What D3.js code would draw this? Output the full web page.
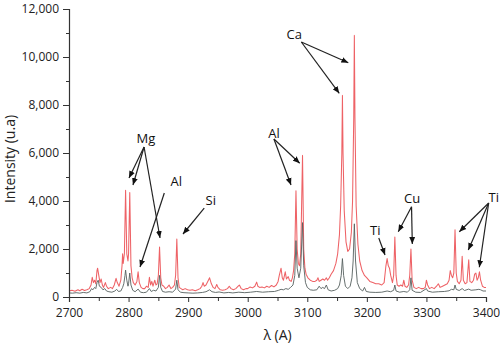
<!DOCTYPE html>
<html><head><meta charset="utf-8">
<script src="https://cdn.jsdelivr.net/npm/d3@7"></script>
<style>
html,body{margin:0;padding:0;background:#fff;}
text{font-family:"Open Sans","Noto Sans",sans-serif;}
</style></head>
<body><svg id="chart" width="500" height="346"></svg>
<script>
// ---- data ----
const redX = [2700,2705,2710,2715,2718,2722,2726,2730,2734,2737,2739,2741,2743,2745,2747,2748,2750,2752,2754,2756,2758,2761,2763,2766,2770,2773,2776,2779,2781,2784,2787,2789,2790,2791,2793,2795,2797,2799,2800,2802,2804,2806,2808,2811,2814,2816,2818,2821,2824,2827,2830,2833,2835,2837,2839,2841,2844,2846,2848,2850,2852,2854,2856,2859,2862,2865,2868,2871,2874,2877,2879,2881,2883,2885,2888,2891,2895,2899,2903,2907,2912,2916,2920,2923,2925,2927,2930,2934,2936,2939,2942,2945,2948,2950,2954,2958,2962,2966,2969,2972,2976,2980,2984,2986,2989,2993,2997,3000,3004,3008,3012,3015,3017,3020,3024,3028,3032,3036,3040,3044,3048,3051,3053,3056,3058,3060,3063,3065,3068,3070,3073,3075,3077,3079,3081,3083,3085,3087,3089,3092,3094,3096,3098,3101,3105,3109,3113,3116,3118,3120,3123,3126,3129,3132,3134,3137,3140,3144,3148,3151,3154,3156,3158,3159,3160,3162,3165,3168,3171,3174,3176,3178,3179,3180,3182,3185,3188,3192,3196,3200,3205,3210,3215,3220,3225,3229,3232,3234,3236,3238,3240,3243,3245,3247,3249,3251,3254,3257,3260,3262,3264,3267,3270,3272,3274,3276,3279,3283,3287,3291,3295,3298,3300,3302,3305,3309,3313,3317,3320,3323,3327,3331,3335,3338,3340,3342,3344,3346,3348,3350,3352,3355,3358,3360,3362,3365,3368,3371,3373,3376,3379,3381,3383,3385,3387,3389,3391,3394,3397,3400];
const redY = [250,280,240,300,260,320,270,300,350,500,820,600,700,550,1100,1200,900,600,750,500,400,600,450,350,400,350,500,780,600,450,700,1300,1800,1400,1800,4450,1800,1500,1800,4350,1300,800,600,500,650,1050,600,400,350,350,450,400,820,500,650,450,700,500,550,900,2080,800,500,450,350,400,500,350,400,500,900,2420,800,400,350,300,350,300,280,300,260,300,350,450,600,450,500,700,800,550,400,350,520,400,300,280,300,350,450,350,300,350,450,500,350,300,350,350,420,380,450,620,450,400,420,380,450,400,480,420,500,650,900,1200,800,700,1050,750,850,700,650,800,1100,1800,4430,2000,1400,1300,1800,5900,2000,1200,950,800,700,650,650,700,800,650,700,750,700,800,700,800,950,1100,1400,1800,2600,3800,6000,8400,6000,3600,2300,1900,2000,2700,4000,7500,10900,7500,3800,2200,1500,1100,900,800,650,600,550,550,500,600,1300,1600,1300,1200,900,600,900,2500,900,500,450,500,450,700,450,400,500,900,2000,700,400,350,400,350,350,400,700,500,350,400,350,450,550,400,450,500,550,700,1100,900,800,1000,2800,1000,650,550,700,1700,700,550,600,1550,650,600,700,950,1000,700,800,1050,700,450,400,400];
const greyX = [2700,2706,2712,2718,2724,2730,2735,2738,2740,2743,2745,2747,2749,2751,2754,2757,2760,2763,2767,2772,2777,2780,2783,2787,2790,2792,2794,2795,2797,2799,2800,2802,2804,2807,2811,2816,2820,2825,2830,2835,2838,2842,2846,2850,2852,2854,2857,2862,2868,2874,2879,2881,2883,2887,2893,2900,2908,2916,2924,2930,2936,2940,2946,2952,2960,2968,2975,2985,2995,3005,3015,3025,3035,3045,3052,3056,3060,3064,3068,3072,3076,3079,3081,3083,3086,3089,3092,3094,3097,3100,3105,3110,3116,3120,3123,3126,3129,3132,3135,3140,3146,3151,3154,3157,3159,3161,3164,3168,3172,3175,3177,3179,3181,3184,3188,3193,3196,3199,3205,3215,3225,3234,3240,3245,3247,3249,3255,3262,3268,3272,3274,3276,3282,3290,3300,3302,3310,3320,3330,3338,3342,3346,3348,3350,3355,3360,3364,3371,3375,3383,3388,3391,3395,3400];
const greyY = [170,160,180,160,190,170,220,350,300,400,350,600,700,450,400,300,350,250,220,200,250,320,230,250,400,550,900,1120,700,450,550,1000,500,280,220,330,200,180,200,350,230,280,250,400,900,400,230,200,220,200,330,700,300,200,180,170,160,170,190,220,300,220,190,210,170,190,170,200,180,200,230,200,220,230,280,320,300,350,320,400,500,900,2350,1200,800,1200,3100,1300,600,400,300,280,300,450,350,400,350,500,300,250,280,350,500,900,1600,900,450,350,450,800,1500,3050,1500,600,350,250,400,230,200,190,200,250,220,280,500,250,200,230,200,300,800,280,200,190,350,250,200,220,230,260,320,300,500,320,270,350,270,330,280,300,320,300,250,250];
const xTicks = [2700,2800,2900,3000,3100,3200,3300,3400];
const yTicks = [0,2000,4000,6000,8000,10000,12000];
// annotations in data units
const annLabels = ["Mg","Al","Si","Al","Ca","Ti","Cu","Ti"];
const annLabelPos = [[2829,6625],[2880,4833],[2938,4042],[3044,6833],[3078,10958],[3214,2792],[3276,4125],[3413,4146]];
const annFrom = [[2826,6250],[2860,4333],[2927,3708],[3044,6583],[3090,10625],[3220,2458],[3275,3763],[3404.5,3917]];
const annTips = [
  [[2800.7,4958],[2807.4,4667],[2852.8,2458]],
  [[2819.2,1250]],
  [[2891.4,2625]],
  [[3087.3,5571],[3072.7,4667]],
  [[3168.9,9763],[3153.7,8488]],
  [[3230.5,1750]],
  [[3252.8,2721],[3276.3,2208]],
  [[3355.2,2721],[3370.3,1958],[3388.8,1238]]
];

// ---- chart ----
const svg = d3.select("#chart");
const L = 69, R = 486, T = 9, B = 297;
const x = d3.scaleLinear().domain([2700,3400]).range([L,R]);
const y = d3.scaleLinear().domain([0,12000]).range([B,T]);

const defs = svg.append("defs");
defs.append("marker").attr("id","arr").attr("viewBox","0 0 10 10")
  .attr("refX",10).attr("refY",5).attr("markerWidth",7).attr("markerHeight",7)
  .attr("markerUnits","userSpaceOnUse").attr("orient","auto")
  .append("path").attr("d","M0,0.8 L10,5 L0,9.2 Z").attr("fill","#111");

const line = d3.line().x(d=>x(d[0])).y(d=>y(d[1]));
const redData = redX.map((v,i)=>[v,redY[i]]);
const greyData = greyX.map((v,i)=>[v,greyY[i]]);

svg.append("path").datum(redData).attr("d",line)
  .attr("fill","none").attr("stroke","#ee6266").attr("stroke-width",1.05).attr("stroke-linejoin","round");
svg.append("path").datum(greyData).attr("d",line)
  .attr("fill","none").attr("stroke","#56605f").attr("stroke-width",1).attr("stroke-opacity",0.9).attr("stroke-linejoin","round");

// axes
const fmt = d3.format(",");
svg.append("g").attr("transform",`translate(${L},0)`)
  .call(d3.axisLeft(y).tickValues(yTicks).tickFormat(fmt).tickSize(6).tickPadding(4));
svg.append("g").attr("transform",`translate(${L},0)`)
  .call(d3.axisLeft(y).tickValues(d3.range(1000,12000,2000)).tickFormat("").tickSize(3))
  .select(".domain").remove();
svg.append("g").attr("transform",`translate(0,${B})`)
  .call(d3.axisBottom(x).tickValues(xTicks).tickFormat(d3.format("d")).tickSize(5).tickPadding(6));
svg.append("g").attr("transform",`translate(0,${B})`)
  .call(d3.axisBottom(x).tickValues(d3.range(2750,3400,100)).tickFormat("").tickSize(4))
  .select(".domain").remove();
svg.selectAll(".domain").attr("stroke","#333").attr("stroke-width",1.2);
svg.selectAll(".tick line").attr("stroke","#333");
svg.selectAll(".tick text").attr("font-size",12).attr("fill","#222")
  .attr("font-family","'Open Sans','Noto Sans',sans-serif");

// axis titles
svg.append("text").attr("transform",`translate(15,${(T+B)/2 + 6}) rotate(-90)`)
  .attr("text-anchor","middle").attr("font-size",14).attr("fill","#222").text("Intensity (u.a)");
svg.append("text").attr("x",(L+R)/2).attr("y",340)
  .attr("text-anchor","middle").attr("font-size",14).attr("fill","#222").text("λ (A)");

// annotations
annLabels.forEach((lab,i)=>{
  const [fx,fy] = annFrom[i];
  annTips[i].forEach(([tx,ty])=>{
    svg.append("line").attr("x1",x(fx)).attr("y1",y(fy)).attr("x2",x(tx)).attr("y2",y(ty))
      .attr("stroke","#222").attr("stroke-width",1.2).attr("marker-end","url(#arr)");
  });
  svg.append("text").attr("x",x(annLabelPos[i][0])).attr("y",y(annLabelPos[i][1]))
    .attr("text-anchor","middle").attr("dominant-baseline","central")
    .attr("font-size",13).attr("fill","#111").text(lab);
});
</script></body></html>
